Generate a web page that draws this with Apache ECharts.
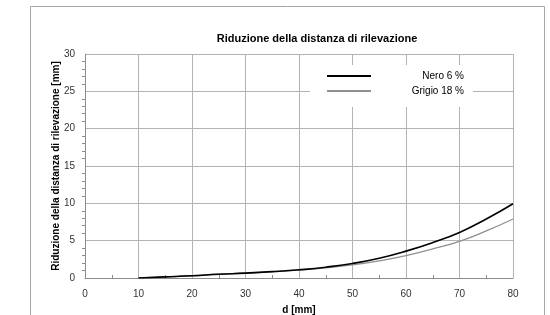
<!DOCTYPE html>
<html>
<head>
<meta charset="utf-8">
<script src="https://cdn.jsdelivr.net/npm/echarts@6/dist/echarts.min.js"></script>
<style>
  html, body { margin: 0; padding: 0; background: #fff; }
  #chart { width: 550px; height: 315px; }
</style>
</head>
<body>
<div id="chart"></div>
<script>
// distanza d [mm]
var dValues = [10, 15, 20, 25, 30, 35, 40, 45, 50, 55, 60, 65, 70, 75, 80];
// riduzione [mm]
var nero6 = [0, 0.15, 0.3, 0.5, 0.65, 0.85, 1.1, 1.45, 1.95, 2.65, 3.6, 4.75, 6.1, 7.9, 9.95];
var grigio18 = [0, 0.15, 0.3, 0.5, 0.65, 0.85, 1.05, 1.35, 1.75, 2.3, 3.0, 3.9, 4.9, 6.3, 7.9];

var seriesNames = ['Nero 6 %', 'Grigio 18 %'];

function pairs(xs, ys) {
  return xs.map(function (x, i) { return [x, ys[i]]; });
}

var font = 'Liberation Sans, Arial, sans-serif';
var chart = echarts.init(document.getElementById('chart'));

var option = {
  animation: false,
  textStyle: { fontFamily: font },
  title: {
    text: 'Riduzione della distanza di rilevazione',
    left: 312,
    top: 28,
    textAlign: 'center',
    textStyle: { fontSize: 11, fontWeight: 'bold', color: '#000', fontFamily: font }
  },
  graphic: [{
    type: 'rect',
    shape: { x: 30.5, y: 6.5, width: 514, height: 330 },
    style: { fill: 'none', stroke: '#a6a6a6', lineWidth: 1 },
    z: -1
  }],
  legend: {
    orient: 'vertical',
    left: 310,
    top: 65,
    padding: [5, 9, 10, 17],
    itemGap: 3,
    itemWidth: 44,
    itemHeight: 2,
    icon: 'rect',
    backgroundColor: '#fff',
    data: [
      { name: seriesNames[0], itemStyle: { color: '#000' } },
      { name: seriesNames[1], itemStyle: { color: '#8f8f8f' } }
    ],
    formatter: '{t|{name}}',
    textStyle: {
      fontSize: 10, color: '#000', fontFamily: font,
      rich: { t: { width: 88, align: 'right', height: 12, lineHeight: 12, fontSize: 10, fontFamily: font } }
    },
    z: 10
  },
  grid: { left: 85, right: 37, top: 54, bottom: 37, outerBoundsMode: 'none' },
  xAxis: {
    type: 'value',
    min: 0,
    max: 80,
    interval: 10,
    name: 'd [mm]',
    nameLocation: 'middle',
    nameGap: 27,
    nameTextStyle: { fontWeight: 'bold', fontSize: 10, color: '#000' },
    axisLine: { lineStyle: { color: '#8c8c8c' } },
    axisTick: { show: false },
    minorTick: { show: true, splitNumber: 2, length: -3, lineStyle: { color: '#8c8c8c' } },
    axisLabel: { fontSize: 10, color: '#333', margin: 11 },
    splitLine: { lineStyle: { color: '#b3b3b3', width: 1 } }
  },
  yAxis: {
    type: 'value',
    min: 0,
    max: 30,
    interval: 5,
    name: 'Riduzione della distanza di rilevazione [mm]',
    nameLocation: 'middle',
    nameGap: 24,
    nameMoveOverlap: false,
    nameTextStyle: { fontWeight: 'bold', fontSize: 10, color: '#000' },
    axisLine: { show: true, lineStyle: { color: '#8c8c8c' } },
    axisTick: { show: false },
    minorTick: { show: true, splitNumber: 5, length: 3, lineStyle: { color: '#8c8c8c' } },
    axisLabel: { fontSize: 10, color: '#333', margin: 10 },
    splitLine: { lineStyle: { color: '#b3b3b3', width: 1 } }
  },
  series: [
    {
      name: seriesNames[0],
      type: 'line',
      smooth: true,
      symbol: 'none',
      data: pairs(dValues, nero6),
      lineStyle: { color: '#000', width: 1.6 },
      itemStyle: { color: '#000' },
      z: 3
    },
    {
      name: seriesNames[1],
      type: 'line',
      smooth: true,
      symbol: 'none',
      data: pairs(dValues, grigio18),
      lineStyle: { color: '#8f8f8f', width: 1.3 },
      itemStyle: { color: '#8f8f8f' },
      z: 2
    }
  ]
};

chart.setOption(option);
</script>
</body>
</html>
